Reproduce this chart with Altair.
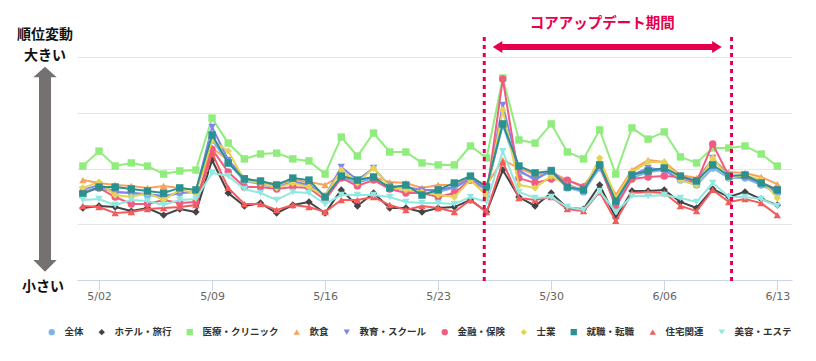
import altair as alt
import pandas as pd

# ---------------- data ----------------
dates = [d.strftime("%Y-%m-%d") for d in pd.date_range("2022-05-01", "2022-06-13")]

series_names = ["全体", "ホテル・旅行", "医療・クリニック", "飲食", "教育・スクール",
                "金融・保険", "士業", "就職・転職", "住宅関連", "美容・エステ"]
colors = ["#7cb5ec", "#434348", "#90ed7d", "#f7a35c", "#8085e9",
          "#f15c80", "#e4d354", "#2b908f", "#f45b5b", "#91e8e1"]
shapes = ["circle", "diamond", "square", "triangle-up", "triangle-down"] * 2

overall = [39.5, 41.3, 39.5, 39.0, 38.1, 37.2, 39.0, 39.5, 62.8, 52.5,
           44.4, 43.0, 41.3, 43.9, 43.0, 37.2, 46.2, 43.5, 45.7, 41.3,
           40.4, 39.0, 39.5, 41.3, 44.8, 40.4, 69.5, 48.4, 45.7, 48.4,
           41.3, 39.5, 50.2, 34.5, 45.7, 48.4, 49.3, 44.8, 42.6, 50.2,
           45.7, 45.7, 42.6, 39.0]
hotel = [32.3, 33.2, 32.7, 30.9, 32.3, 29.1, 31.8, 30.5, 53.8, 39.0,
         33.2, 34.5, 30.0, 33.6, 35.0, 30.0, 40.4, 33.2, 39.0, 32.3,
         32.3, 30.5, 32.3, 32.7, 35.9, 30.5, 49.3, 37.2, 33.2, 39.0,
         32.3, 31.8, 42.6, 27.8, 39.9, 39.9, 40.4, 35.0, 32.3, 40.8,
         37.2, 39.5, 36.3, 33.6]
medical = [51.1, 57.8, 51.1, 52.5, 51.1, 47.5, 48.9, 49.3, 72.6, 61.4,
           54.3, 56.5, 56.9, 54.3, 53.4, 47.5, 64.1, 55.6, 65.9, 57.4,
           57.4, 52.5, 51.6, 51.6, 60.1, 54.7, 90.6, 62.8, 61.4, 70.0,
           57.4, 54.3, 67.3, 47.5, 68.2, 63.2, 66.4, 55.2, 52.5, 59.2,
           59.2, 60.1, 56.5, 51.1]
restaurant = [44.8, 43.5, 42.6, 42.2, 41.3, 42.2, 41.3, 40.4, 59.2, 53.8,
              45.7, 43.9, 43.0, 44.8, 43.9, 42.6, 47.1, 44.8, 46.2, 43.9,
              43.5, 41.3, 42.6, 42.6, 45.7, 42.6, 53.8, 50.2, 47.1, 48.4,
              44.8, 42.2, 51.6, 38.1, 49.3, 53.8, 52.9, 47.1, 45.7, 53.8,
              48.4, 48.0, 46.2, 43.0]
education = [40.4, 42.6, 39.5, 39.0, 38.6, 37.7, 39.0, 39.5, 68.6, 53.8,
             45.7, 43.5, 41.7, 43.9, 42.6, 37.7, 50.7, 44.8, 50.2, 42.2,
             41.7, 40.4, 40.4, 41.7, 45.7, 40.4, 78.5, 49.3, 44.8, 49.3,
             42.6, 40.4, 51.6, 35.9, 47.1, 50.2, 49.3, 44.8, 43.5, 54.7,
             46.2, 46.2, 43.5, 39.5]
finance = [39.0, 41.3, 37.2, 34.1, 34.1, 35.9, 34.5, 35.0, 58.7, 48.4,
           41.7, 41.7, 40.8, 41.7, 41.3, 35.9, 45.7, 42.2, 44.8, 40.8,
           39.0, 39.0, 37.2, 39.0, 44.8, 38.1, 90.1, 45.7, 43.5, 45.3,
           44.8, 41.7, 51.6, 32.7, 45.3, 46.2, 46.6, 46.2, 43.9, 61.0,
           46.6, 46.6, 43.9, 40.4]
professional = [41.3, 43.9, 38.1, 37.2, 39.0, 35.9, 40.4, 39.0, 62.8, 57.8,
                44.8, 43.5, 41.3, 43.5, 41.7, 37.7, 49.3, 43.5, 50.2, 41.7,
                40.4, 39.5, 38.1, 37.2, 44.8, 38.1, 76.2, 42.6, 41.3, 46.6,
                42.2, 40.4, 54.7, 36.8, 48.4, 52.9, 52.9, 44.8, 42.6, 54.7,
                45.7, 47.1, 44.8, 36.8]
jobs = [38.6, 41.7, 41.7, 40.8, 39.9, 39.0, 41.3, 40.4, 65.0, 52.5,
        45.3, 44.4, 42.6, 45.7, 44.8, 37.2, 46.6, 44.8, 46.2, 41.3,
        42.6, 38.1, 40.4, 43.5, 46.6, 41.7, 70.0, 51.1, 48.0, 48.9,
        41.7, 40.4, 51.6, 35.4, 47.1, 48.9, 50.2, 46.6, 44.4, 51.6,
        46.6, 47.1, 43.5, 40.4]
housing = [33.2, 32.7, 30.0, 30.5, 31.8, 32.3, 32.7, 33.6, 56.9, 41.3,
           34.1, 34.1, 31.4, 33.6, 32.7, 30.5, 35.9, 35.9, 37.2, 33.6,
           31.4, 33.2, 32.3, 30.5, 35.9, 30.5, 52.9, 36.8, 35.9, 37.2,
           31.8, 30.9, 39.5, 26.5, 39.0, 39.5, 39.0, 33.2, 30.9, 40.4,
           35.0, 36.3, 34.5, 29.1]
beauty = [35.9, 36.3, 33.6, 35.9, 35.4, 33.6, 35.9, 36.3, 48.0, 46.6,
          40.8, 39.0, 35.9, 39.5, 39.0, 34.1, 38.1, 38.1, 38.1, 37.2,
          35.0, 34.5, 34.5, 34.1, 37.2, 35.0, 57.8, 39.5, 36.8, 37.2,
          32.7, 31.4, 39.9, 30.5, 37.7, 37.7, 38.1, 36.8, 35.0, 43.5,
          37.2, 37.2, 36.3, 33.2]

all_values = [overall, hotel, medical, restaurant, education,
              finance, professional, jobs, housing, beauty]

tick_dates = ["2022-05-02", "2022-05-09", "2022-05-16", "2022-05-23",
              "2022-05-30", "2022-06-06", "2022-06-13"]
update_lines = ["2022-05-25T20:30:00Z", "2022-06-10T04:00:00Z"]
arrow_start = "2022-05-26T22:00:00Z"
arrow_end = "2022-06-09T00:30:00Z"
label_date = "2022-06-02T04:00:00Z"
update_label = "コアアップデート期間"

rows = []
for name, vals in zip(series_names, all_values):
    for d, v in zip(dates, vals):
        rows.append({"date": d, "series": name, "value": v})
df = pd.DataFrame(rows)

CRIMSON = "#e6004c"
GRAY = "#767171"
JP = "Noto Sans CJK JP"


def dt(s, h=0, m=0):
    y, mo, d = [int(p) for p in s.split("-")]
    return alt.DateTime(year=y, month=mo, date=d, hours=h, minutes=m, utc=True)


x_scale = alt.Scale(type="utc", domain=[dt("2022-04-30", 15, 17), dt("2022-06-13", 21, 50)])
x_axis = alt.Axis(values=[dt(t) for t in tick_dates], format="%-m/%d", title=None,
                  grid=False, tickSize=10, labelPadding=0, domainColor="#ccd6eb",
                  tickColor="#ccd6eb", labelColor="#666666", labelFontSize=11,
                  labelFont="DejaVu Sans", labelFontWeight="normal")
y_scale = alt.Scale(domain=[0, 100], nice=False)
y_axis = alt.Axis(values=[0, 25, 50, 75, 100], labels=False, ticks=False, domain=False,
                  title=None, grid=True, gridColor="#e6e6e6")

color_scale = alt.Scale(domain=series_names, range=colors)
shape_scale = alt.Scale(domain=series_names, range=shapes)


def X(field):
    return alt.X(field, scale=x_scale, axis=x_axis)


base = alt.Chart(df)
layers = []
for i, name in enumerate(series_names):
    sub = base.transform_filter(alt.datum.series == name)
    ye = alt.Y("value:Q", scale=y_scale, axis=y_axis)
    line = sub.mark_line(strokeWidth=2, color=colors[i]).encode(x=X("date:T"), y=ye)
    pts = sub.mark_point(filled=True, size=55, opacity=1, strokeWidth=0).encode(
        x=X("date:T"), y=ye,
        color=alt.Color("series:N", scale=color_scale, title=None),
        shape=alt.Shape("series:N", scale=shape_scale, title=None),
    )
    layers += [line, pts]

# dotted update period lines
lines_df = pd.DataFrame({"date": update_lines})
vlines = alt.Chart(lines_df).mark_rule(color=CRIMSON, strokeWidth=3, strokeDash=[4, 4]).encode(
    x=X("date:T"), y=alt.value(-20), y2=alt.value(225)
)

arrow_df = pd.DataFrame({"date": [arrow_start], "e": [arrow_end], "m": [label_date]})
arrow_shaft = alt.Chart(arrow_df).mark_rule(color=CRIMSON, strokeWidth=6).encode(
    x=X("date:T"), x2="e:T", y=alt.value(-10)
)
head_left = alt.Chart(arrow_df).mark_point(
    shape="M-1.45,0L0.15,-1L0.15,1Z", size=144, filled=True, opacity=1,
    color=CRIMSON, strokeWidth=0
).encode(x=X("date:T"), y=alt.value(-10))
head_right = alt.Chart(arrow_df).mark_point(
    shape="M1.45,0L-0.15,-1L-0.15,1Z", size=144, filled=True, opacity=1,
    color=CRIMSON, strokeWidth=0
).encode(x=X("e:T"), y=alt.value(-10))
arrow_label = alt.Chart(arrow_df).mark_text(
    text=update_label, font=JP, fontSize=14.5, fontWeight="bold", color=CRIMSON,
    align="center", baseline="middle"
).encode(x=X("m:T"), y=alt.value(-33))

# left side "rank change" indicator
one = pd.DataFrame({"k": [0]})
gray_shaft = alt.Chart(one).mark_rule(color=GRAY, strokeWidth=12).encode(
    x=alt.value(-32), y=alt.value(19), y2=alt.value(204)
)
gray_top = alt.Chart(one).mark_point(
    shape="M0,0L1,0.9L-1,0.9Z", size=548, filled=True, opacity=1, color=GRAY, strokeWidth=0
).encode(x=alt.value(-32), y=alt.value(9.7))
gray_bottom = alt.Chart(one).mark_point(
    shape="M0,0L1,-1L-1,-1Z", size=548, filled=True, opacity=1, color=GRAY, strokeWidth=0
).encode(x=alt.value(-32), y=alt.value(214.7))

txt_kw = dict(font=JP, fontSize=14, fontWeight="bold", color="#111111",
              align="center", baseline="middle")
t1 = alt.Chart(one).mark_text(text="順位変動", **txt_kw).encode(x=alt.value(-32), y=alt.value(-22))
t2 = alt.Chart(one).mark_text(text="大きい", **txt_kw).encode(x=alt.value(-32), y=alt.value(-1))
t3 = alt.Chart(one).mark_text(text="小さい", **txt_kw).encode(x=alt.value(-34), y=alt.value(230))

chart = alt.layer(
    *layers, vlines, arrow_shaft, head_left, head_right, arrow_label,
    gray_shaft, gray_top, gray_bottom, t1, t2, t3
).properties(
    width=715, height=223,
    padding={"left": 69, "top": 49, "right": 16, "bottom": 66},
    autosize=alt.AutoSizeParams(type="none"),
).configure_view(strokeWidth=0).configure_legend(
    orient="none", legendX=-30, legendY=270, direction="horizontal", columns=10,
    symbolSize=40, symbolStrokeWidth=0, labelFontSize=9.5, labelFontWeight="bold",
    labelColor="#333333", labelFont=JP, columnPadding=13, labelOffset=8, padding=0,
)

chart.save("out.html", embed_options={"renderer": "svg", "actions": False})
